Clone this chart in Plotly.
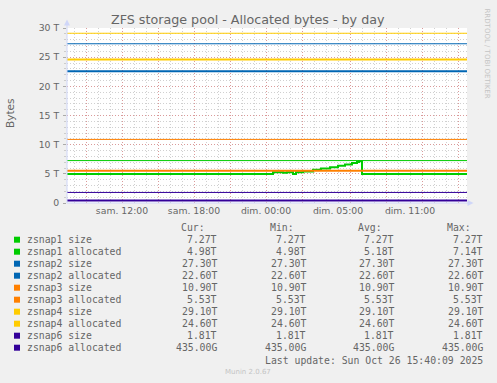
import plotly.graph_objects as go

# ---------------- data ----------------
t_range = ["2025-10-25 05:25", "2025-10-26 14:45"]          # graph window (UTC)
series_names = ["zsnap1 size", "zsnap1 allocated", "zsnap2 size", "zsnap2 allocated",
                "zsnap3 size", "zsnap3 allocated", "zsnap4 size", "zsnap4 allocated",
                "zsnap6 size", "zsnap6 allocated"]
series_colors = ["#00CC00", "#00CC00", "#0066B3", "#0066B3", "#FF8000", "#FF8000",
                 "#FFCC00", "#FFCC00", "#330099", "#330099"]

# constant series (value in T over the whole window)
zsnap1_size = [7.27, 7.27]
zsnap2_size = [27.30, 27.30]
zsnap2_alloc = [22.60, 22.60]
zsnap3_size = [10.90, 10.90]
zsnap3_alloc = [5.53, 5.53]
zsnap4_size = [29.10, 29.10]
zsnap4_alloc = [24.60, 24.60]
zsnap6_size = [1.81, 1.81]
zsnap6_alloc = [0.435, 0.435]

# zsnap1 allocated (step series)
zsnap1_alloc_t = ["2025-10-25 05:25", "2025-10-25 22:35", "2025-10-25 23:25", "2025-10-25 23:45",
                  "2025-10-26 00:15", "2025-10-26 00:30", "2025-10-26 01:05", "2025-10-26 01:55",
                  "2025-10-26 02:35", "2025-10-26 03:20", "2025-10-26 04:00", "2025-10-26 04:35",
                  "2025-10-26 05:10", "2025-10-26 05:35", "2025-10-26 05:45", "2025-10-26 06:00",
                  "2025-10-26 14:45"]
zsnap1_alloc_v = [4.98, 5.26, 5.18, 5.26, 4.98, 5.26, 5.40, 5.70, 5.92, 6.15, 6.40, 6.62,
                  6.85, 7.02, 7.14, 4.98, 4.98]

cur_vals = ["7.27T", "4.98T", "27.30T", "22.60T", "10.90T", "5.53T", "29.10T", "24.60T", "1.81T", "435.00G"]
min_vals = ["7.27T", "4.98T", "27.30T", "22.60T", "10.90T", "5.53T", "29.10T", "24.60T", "1.81T", "435.00G"]
avg_vals = ["7.27T", "5.18T", "27.30T", "22.60T", "10.90T", "5.53T", "29.10T", "24.60T", "1.81T", "435.00G"]
max_vals = ["7.27T", "7.14T", "27.30T", "22.60T", "10.90T", "5.53T", "29.10T", "24.60T", "1.81T", "435.00G"]
col_headers = ["Cur:", "Min:", "Avg:", "Max:"]

y_tickvals = [0, 5, 10, 15, 20, 25, 30]
y_ticktext = ["0", "5 T", "10 T", "15 T", "20 T", "25 T", "30 T"]
x_label_times = ["2025-10-25 10:00", "2025-10-25 16:00", "2025-10-25 22:00",
                 "2025-10-26 04:00", "2025-10-26 10:00"]
x_label_text = ["sam. 12:00", "sam. 18:00", "dim. 00:00", "dim. 05:00", "dim. 11:00"]
x_major_grid = ["2025-10-25 07:00", "2025-10-25 10:00", "2025-10-25 13:00", "2025-10-25 16:00",
                "2025-10-25 19:00", "2025-10-25 22:00", "2025-10-26 01:00", "2025-10-26 05:00",
                "2025-10-26 08:00", "2025-10-26 11:00", "2025-10-26 14:00"]

title_text = "ZFS storage pool - Allocated bytes - by day"
last_update = "Last update: Sun Oct 26 15:40:09 2025"

# ---------------- layout helpers ----------------
W, H = 497, 383
PL, PR, PT, PB = 67, 467, 28, 203
FONT = "#666666"
AXIS = "#CFD6F8"


def px(x):
    return (x - PL) / (PR - PL)


def py(y):
    return (PB - y) / (PB - PT)


fig = go.Figure()

const_series = [zsnap1_size, None, zsnap2_size, zsnap2_alloc, zsnap3_size, zsnap3_alloc,
                zsnap4_size, zsnap4_alloc, zsnap6_size, zsnap6_alloc]
for i, name in enumerate(series_names):
    width = 1 if "size" in name else 2
    if const_series[i] is None:
        xs, ys = zsnap1_alloc_t, zsnap1_alloc_v
    else:
        xs, ys = t_range, const_series[i]
    fig.add_trace(go.Scatter(x=xs, y=ys, mode="lines", line=dict(color=series_colors[i], width=width, shape="hv"),
                             name=name, hoverinfo="skip", showlegend=False))

fig.add_trace(go.Scatter(x=x_label_times, y=[None] * len(x_label_times), xaxis="x2", yaxis="y",
                         mode="lines", showlegend=False, hoverinfo="skip"))

tickfont = dict(family="DejaVu Sans", size=9.3, color=FONT)
fig.update_layout(
    width=W, height=H,
    margin=dict(l=PL, r=W - PR, t=PT, b=H - PB),
    paper_bgcolor="#F0F0F0", plot_bgcolor="#FFFFFF",
    showlegend=False,
    xaxis=dict(type="date", range=t_range, tickmode="array", tickvals=x_major_grid,
               showticklabels=False, ticks="", showgrid=True,
               gridcolor="rgba(225,110,110,0.55)", griddash="1px,2px", gridwidth=1,
               zeroline=False, showline=False,
               minor=dict(tickmode="linear", tick0="2025-10-25 06:00", dtick=3600000,
                          showgrid=True, gridcolor="rgba(150,150,150,0.45)",
                          griddash="1px,2px", gridwidth=1, ticks="")),
    xaxis2=dict(type="date", range=t_range, overlaying="x", anchor="y", side="bottom",
                tickmode="array", tickvals=x_label_times, ticktext=x_label_text,
                showgrid=False, zeroline=False, showline=False, ticks="",
                tickfont=tickfont, ticklabelstandoff=1),
    yaxis=dict(range=[0, 30], tickmode="array", tickvals=y_tickvals, ticktext=y_ticktext,
               tickfont=tickfont, ticks="outside", ticklen=3, tickcolor="#AAAAAA",
               showgrid=True, gridcolor="rgba(225,110,110,0.55)", griddash="1px,2px",
               zeroline=False, showline=False, ticklabelstandoff=2,
               minor=dict(dtick=1, showgrid=True, gridcolor="rgba(150,150,150,0.45)",
                          griddash="1px,2px", ticks="outside", ticklen=2, tickcolor="#CCCCCC")),
)

shapes = []
# axis lines + arrows
shapes.append(dict(type="line", xref="paper", yref="paper", x0=0, x1=0, y0=0, y1=py(24),
                   line=dict(color=AXIS, width=1), layer="above"))
shapes.append(dict(type="path", xref="paper", yref="paper",
                   path=f"M {px(67)} {py(19.5)} L {px(64)} {py(25.5)} L {px(70)} {py(25.5)} Z",
                   fillcolor=AXIS, line=dict(width=0), layer="above"))
shapes.append(dict(type="line", xref="paper", yref="paper", x0=0, x1=px(469), y0=0, y1=0,
                   line=dict(color=AXIS, width=1), layer="above"))
shapes.append(dict(type="path", xref="paper", yref="paper",
                   path=f"M {px(473.5)} {py(203)} L {px(467.5)} {py(200)} L {px(467.5)} {py(206)} Z",
                   fillcolor=AXIS, line=dict(width=0), layer="above"))

ann = []
ann.append(dict(text=title_text, x=px(248), y=py(19), xref="paper", yref="paper",
                xanchor="center", yanchor="middle", showarrow=False,
                font=dict(family="DejaVu Sans", size=12.7, color=FONT)))
ann.append(dict(text="Bytes", x=px(10), y=py(114), xref="paper", yref="paper",
                xanchor="center", yanchor="middle", showarrow=False, textangle=-90,
                font=dict(family="DejaVu Sans", size=10.5, color=FONT)))
ann.append(dict(text="RRDTOOL / TOBI OETIKER", x=px(487), y=py(53.5), xref="paper", yref="paper",
                xanchor="center", yanchor="middle", showarrow=False, textangle=90,
                font=dict(family="DejaVu Sans", size=7, color="#C4C4C4")))
ann.append(dict(text="Munin 2.0.67", x=px(247.5), y=py(371.5), xref="paper", yref="paper",
                xanchor="center", yanchor="middle", showarrow=False,
                font=dict(family="DejaVu Sans", size=7, color="#C4C4C4")))

mono = dict(family="DejaVu Sans Mono", size=9.8, color=FONT)
header_x = [181, 270, 358, 447]
for hx, h in zip(header_x, col_headers):
    ann.append(dict(text=h, x=px(hx), y=py(227.7), xref="paper", yref="paper",
                    xanchor="left", yanchor="middle", showarrow=False, font=mono,
                    borderpad=0, borderwidth=0))

col_right = [216.7, 305.7, 394.3, 482.7]
for i, name in enumerate(series_names):
    ry = 239.7 + 12 * i
    shapes.append(dict(type="rect", xref="paper", yref="paper", x0=px(14), x1=px(20),
                       y0=py(ry - 3), y1=py(ry + 3), fillcolor=series_colors[i],
                       line=dict(width=0)))
    ann.append(dict(text=name, x=px(26.7), y=py(ry), xref="paper", yref="paper",
                    xanchor="left", yanchor="middle", showarrow=False, font=mono,
                    borderpad=0, borderwidth=0))
    for cx, vals in zip(col_right, [cur_vals, min_vals, avg_vals, max_vals]):
        ann.append(dict(text=vals[i], x=px(cx), y=py(ry), xref="paper", yref="paper",
                        xanchor="right", yanchor="middle", showarrow=False, font=mono,
                        borderpad=0, borderwidth=0))

ann.append(dict(text=last_update, x=px(482.7), y=py(360.7), xref="paper", yref="paper",
                xanchor="right", yanchor="middle", showarrow=False, font=mono,
                borderpad=0, borderwidth=0))

fig.update_layout(shapes=shapes, annotations=ann)
fig.write_html("out.html")
